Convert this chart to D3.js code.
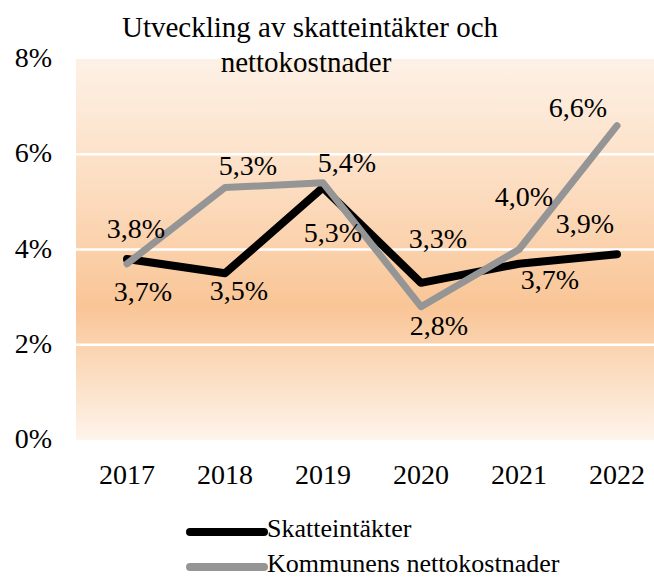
<!DOCTYPE html>
<html>
<head>
<meta charset="utf-8">
<script src="https://cdn.jsdelivr.net/npm/d3@7"></script>
<style>
  body { margin: 0; background: #fff; }
  svg text { font-family: "Liberation Serif", "Times New Roman", serif; fill: #000; }
</style>
</head>
<body>
<div class="chart"></div>
<script>
// Chart data
const years = ['2017', '2018', '2019', '2020', '2021', '2022'];
const skatteintakter = [3.8, 3.5, 5.3, 3.3, 3.7, 3.9];
const nettokostnader = [3.7, 5.3, 5.4, 2.8, 4.0, 6.6];
const yTicks = [0, 2, 4, 6, 8];
const seriesNames = ['Skatteintäkter', 'Kommunens nettokostnader'];

// Label offsets from each point, [dx, dy] in px (placement only)
const skattLabelOffset = [[9, -21], [14, 27], [10, 54], [17, -35], [31, 25], [-32, -21]];
const nettoLabelOffset = [[16, 37], [23, -13], [24, -11], [18, 28], [5, -44], [-39, -9]];

const width = 654;
const height = 578;
const plot = {left: 76, right: 666, top: 59, bottom: 440};
const fmt = v => d3.format('.1f')(v).replace('.', ',') + '%';

const svg = d3.select('.chart').append('svg')
    .attr('width', width)
    .attr('height', height)
    .attr('font-family', '"Liberation Serif", "Times New Roman", serif');

// Background gradient for the plot area
const grad = svg.append('defs').append('linearGradient')
    .attr('id', 'bg')
    .attr('x1', 0).attr('y1', 0).attr('x2', 0).attr('y2', 1);
[[0, '#fdf1e6'], [0.35, '#fcdcbf'], [0.65, '#f9c596'], [1, '#fef4eb']].forEach(([o, c]) => {
  grad.append('stop').attr('offset', o).attr('stop-color', c);
});

const xScale = d3.scaleBand()
    .domain(years)
    .range([plot.left + 2, plot.right])
    .padding(0);

const yScale = d3.scaleLinear()
    .domain([0, 8])
    .range([plot.bottom, plot.top]);

const xOf = (d, i) => xScale(years[i]) + xScale.bandwidth() / 2;

svg.append('rect')
    .attr('x', plot.left)
    .attr('y', plot.top)
    .attr('width', plot.right - plot.left)
    .attr('height', plot.bottom - plot.top)
    .attr('fill', 'url(#bg)');

// Gridlines
svg.append('g')
  .selectAll('line')
  .data(yTicks.filter(t => t > 0 && t < 8))
  .join('line')
    .attr('x1', plot.left)
    .attr('x2', plot.right)
    .attr('y1', d => yScale(d))
    .attr('y2', d => yScale(d))
    .attr('stroke', '#fff')
    .attr('stroke-width', 2.5);

// Y axis labels
svg.append('g')
  .selectAll('text')
  .data(yTicks)
  .join('text')
    .attr('x', 52)
    .attr('y', d => yScale(d) + 8)
    .attr('text-anchor', 'end')
    .attr('font-size', 28)
    .text(d => d + '%');

// X axis labels
svg.append('g')
  .selectAll('text')
  .data(years)
  .join('text')
    .attr('x', d => xScale(d) + xScale.bandwidth() / 2)
    .attr('y', 484)
    .attr('text-anchor', 'middle')
    .attr('font-size', 28)
    .text(d => d);

// Lines
const line = d3.line()
    .x(xOf)
    .y(d => yScale(d));

const series = [
  {values: skatteintakter, color: '#000', w: 8, offsets: skattLabelOffset},
  {values: nettokostnader, color: '#959595', w: 7, offsets: nettoLabelOffset},
];

series.forEach(s => {
  svg.append('path')
      .datum(s.values)
      .attr('d', line)
      .attr('fill', 'none')
      .attr('stroke', s.color)
      .attr('stroke-width', s.w)
      .attr('stroke-linecap', 'round')
      .attr('stroke-linejoin', 'round');
});

// Data labels
series.forEach(s => {
  svg.append('g')
    .selectAll('text')
    .data(s.values)
    .join('text')
      .attr('x', (d, i) => xOf(d, i) + s.offsets[i][0])
      .attr('y', (d, i) => yScale(d) + s.offsets[i][1])
      .attr('text-anchor', 'middle')
      .attr('font-size', 28)
      .text(fmt);
});

// Title
const title = svg.append('text')
    .attr('text-anchor', 'middle')
    .attr('font-size', 29);
title.append('tspan').attr('x', 310).attr('y', 37).text('Utveckling av skatteintäkter och');
title.append('tspan').attr('x', 306).attr('y', 72).text('nettokostnader');

// Legend
const legend = svg.append('g');
series.forEach((s, i) => {
  const y = 532 + i * 35;
  legend.append('line')
      .attr('x1', 190).attr('x2', 264)
      .attr('y1', y).attr('y2', y)
      .attr('stroke', s.color)
      .attr('stroke-width', 8)
      .attr('stroke-linecap', 'round');
  legend.append('text')
      .attr('x', 267)
      .attr('y', y + 5)
      .attr('font-size', 26)
      .text(seriesNames[i]);
});
</script>
</body>
</html>
